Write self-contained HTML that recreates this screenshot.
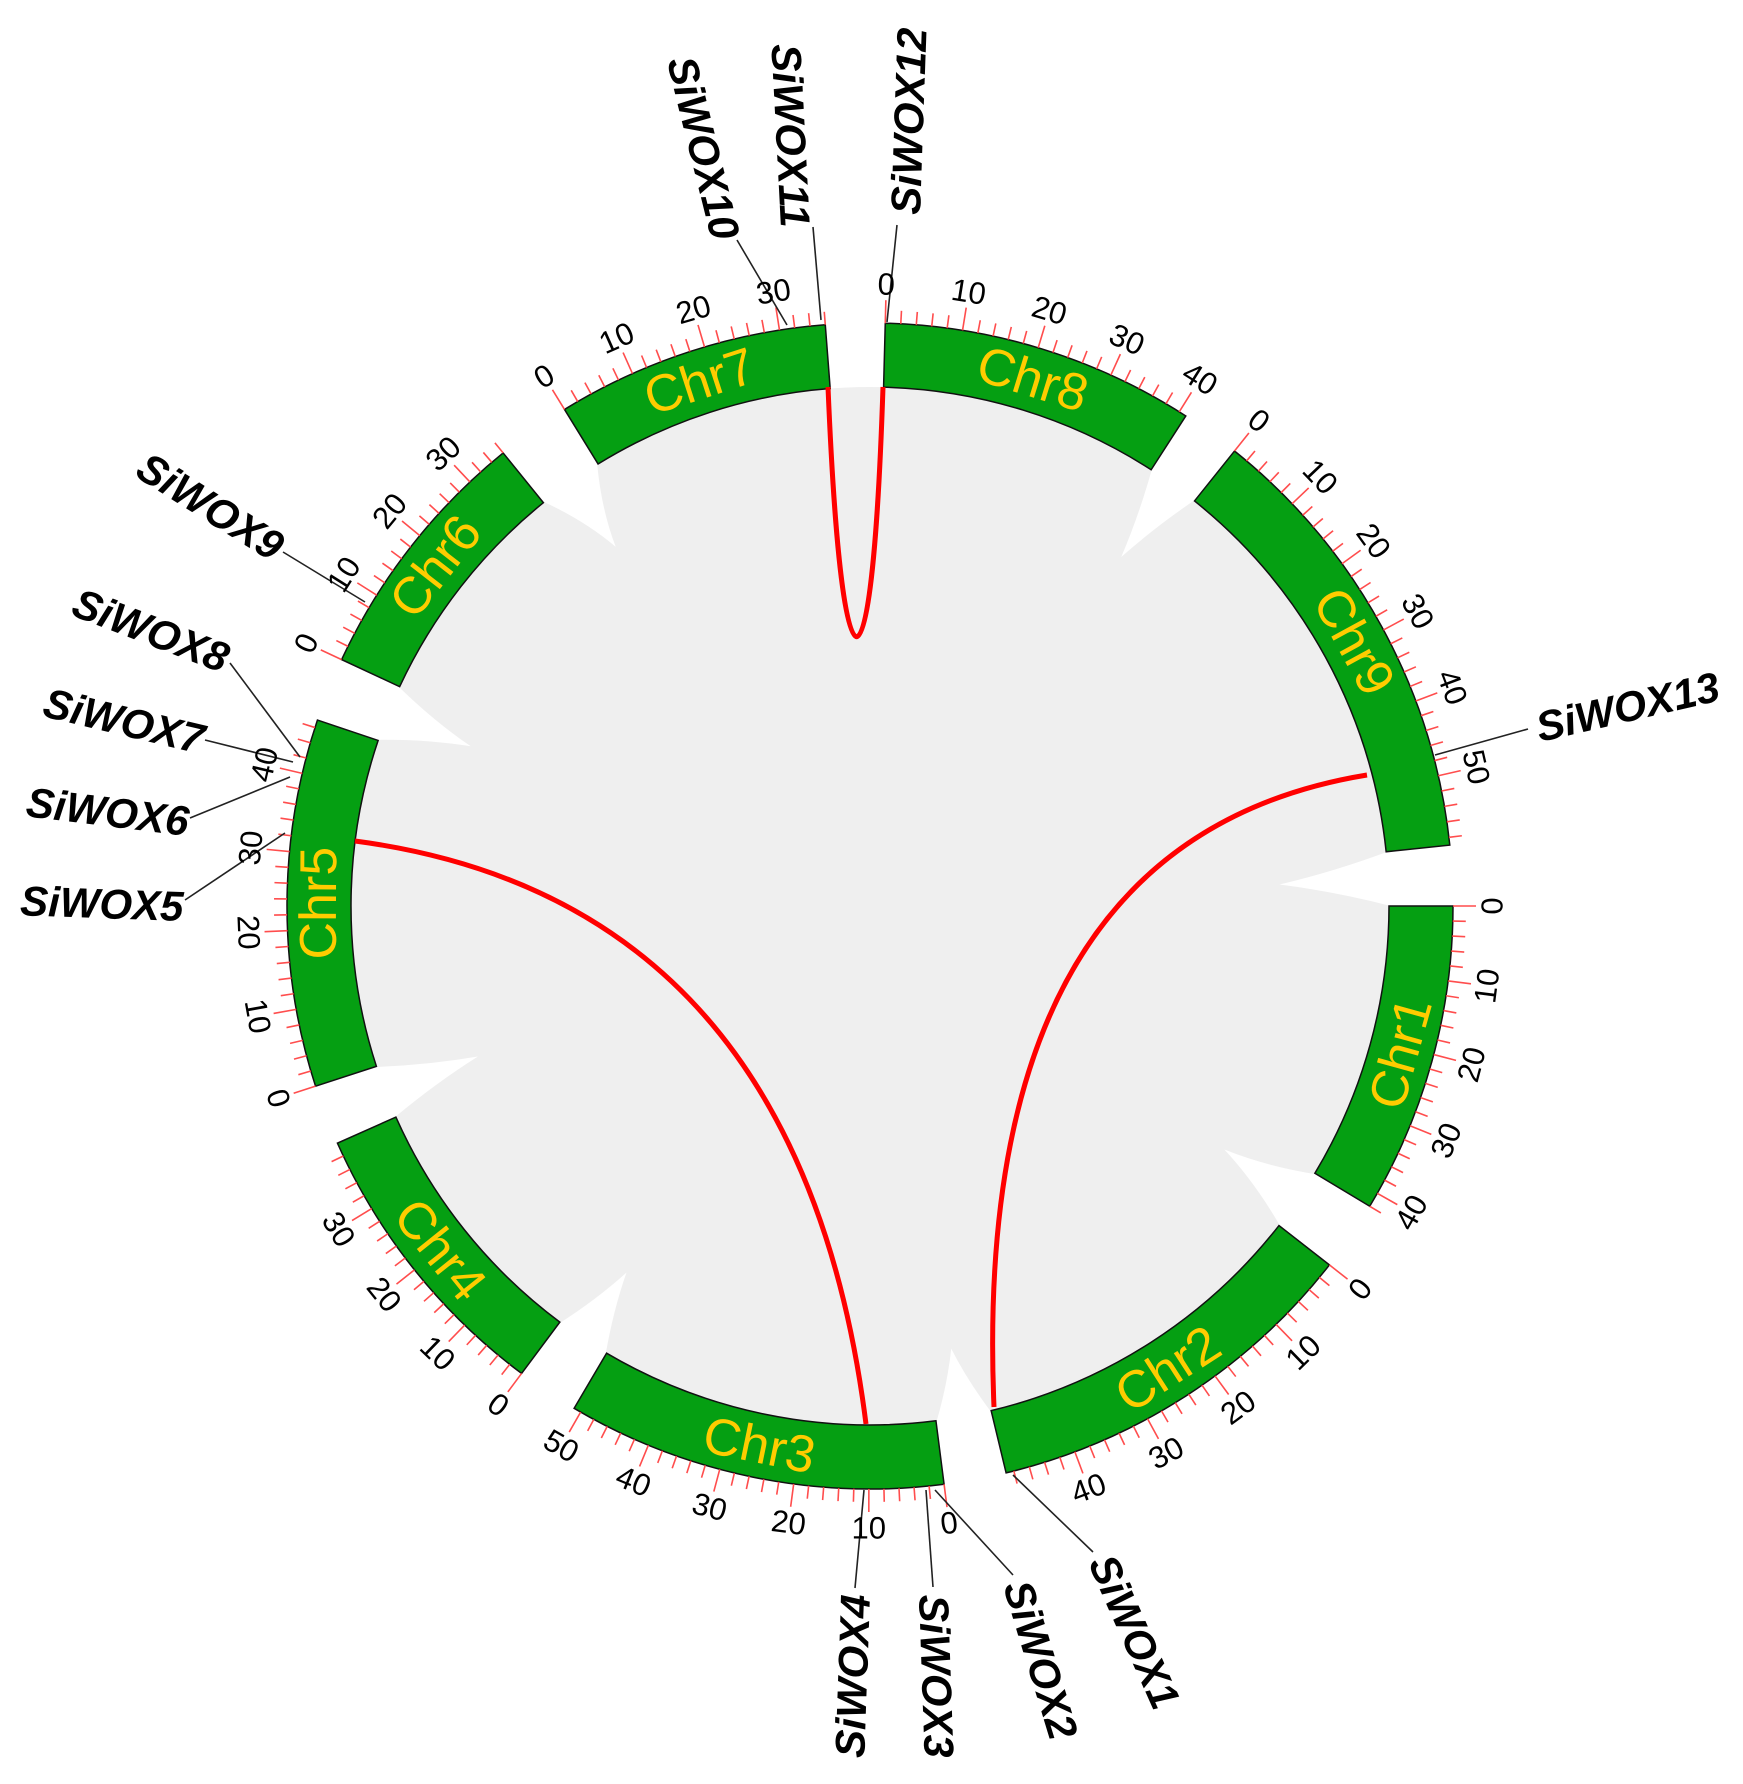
<!DOCTYPE html>
<html><head><meta charset="utf-8">
<style>
html,body{margin:0;padding:0;background:#fff;}
svg{display:block;}
.tl{font-family:"Liberation Sans",sans-serif;font-size:31px;fill:#000;text-anchor:middle;dominant-baseline:central;}
.cn{font-family:"Liberation Sans",sans-serif;font-size:52px;fill:#ffcc00;text-anchor:middle;dominant-baseline:central;}
.gl{font-family:"Liberation Sans",sans-serif;font-size:42px;font-weight:bold;font-style:italic;fill:#000;}
</style></head>
<body>
<svg id="s" width="1743" height="1784" viewBox="0 0 1743 1784" xmlns="http://www.w3.org/2000/svg">
<rect width="1743" height="1784" fill="#fff"/>
<circle cx="870" cy="906" r="519" fill="#efefef"/>
<g id="wedges" fill="#fff"></g>
<g id="chrs"></g>
<g id="ticks" stroke="#ff4d4d" stroke-width="1.6"></g>

<g fill="none" stroke="#ff0000" stroke-width="5">
<path d="M828 387 C842 720 872 720 883 387"/>
<path d="M355 841 Q800 900 866 1424"/>
<path d="M1367 775 Q970 840 994 1407"/>
</g>

<g stroke="#222" stroke-width="1.6">
<line x1="897" y1="225" x2="887" y2="322"/>
<line x1="813" y1="227" x2="821" y2="320"/>
<line x1="737" y1="240" x2="787" y2="325"/>
<line x1="283" y1="552" x2="365" y2="602"/>
<line x1="230" y1="663" x2="300" y2="757"/>
<line x1="205" y1="740" x2="293" y2="762"/>
<line x1="190" y1="818" x2="290" y2="777"/>
<line x1="185" y1="900" x2="285" y2="833"/>
<line x1="1528" y1="729" x2="1435" y2="755"/>
<line x1="855" y1="1588" x2="864" y2="1490"/>
<line x1="933" y1="1587" x2="926" y2="1490"/>
<line x1="1013" y1="1575" x2="935" y2="1490"/>
<line x1="1093" y1="1552" x2="1013" y2="1475"/>
</g>

<g class="tl">
<g transform="rotate(1.5 870 906)"><text x="870" y="284">0</text></g>
<g transform="rotate(9.13 870 906)"><text x="870" y="284">10</text></g>
<g transform="rotate(16.77 870 906)"><text x="870" y="284">20</text></g>
<g transform="rotate(24.4 870 906)"><text x="870" y="284">30</text></g>
<g transform="rotate(32.04 870 906)"><text x="870" y="284">40</text></g>
<g transform="rotate(38.7 870 906)"><text x="870" y="284">0</text></g>
<g transform="rotate(46.38 870 906)"><text x="870" y="284">10</text></g>
<g transform="rotate(54.06 870 906)"><text x="870" y="284">20</text></g>
<g transform="rotate(61.73 870 906)"><text x="870" y="284">30</text></g>
<g transform="rotate(69.41 870 906)"><text x="870" y="284">40</text></g>
<g transform="rotate(77.09 870 906)"><text x="870" y="284">50</text></g>
<g transform="rotate(90 870 906)"><text x="870" y="284" transform="rotate(180 870 284)">0</text></g>
<g transform="rotate(97.38 870 906)"><text x="870" y="284" transform="rotate(180 870 284)">10</text></g>
<g transform="rotate(104.76 870 906)"><text x="870" y="284" transform="rotate(180 870 284)">20</text></g>
<g transform="rotate(112.14 870 906)"><text x="870" y="284" transform="rotate(180 870 284)">30</text></g>
<g transform="rotate(119.52 870 906)"><text x="870" y="284" transform="rotate(180 870 284)">40</text></g>
<g transform="rotate(128 870 906)"><text x="870" y="284" transform="rotate(180 870 284)">0</text></g>
<g transform="rotate(135.86 870 906)"><text x="870" y="284" transform="rotate(180 870 284)">10</text></g>
<g transform="rotate(143.71 870 906)"><text x="870" y="284" transform="rotate(180 870 284)">20</text></g>
<g transform="rotate(151.57 870 906)"><text x="870" y="284" transform="rotate(180 870 284)">30</text></g>
<g transform="rotate(159.43 870 906)"><text x="870" y="284" transform="rotate(180 870 284)">40</text></g>
<g transform="rotate(172.7 870 906)"><text x="870" y="284" transform="rotate(180 870 284)">0</text></g>
<g transform="rotate(180.11 870 906)"><text x="870" y="284" transform="rotate(180 870 284)">10</text></g>
<g transform="rotate(187.52 870 906)"><text x="870" y="284" transform="rotate(180 870 284)">20</text></g>
<g transform="rotate(194.94 870 906)"><text x="870" y="284" transform="rotate(180 870 284)">30</text></g>
<g transform="rotate(202.35 870 906)"><text x="870" y="284" transform="rotate(180 870 284)">40</text></g>
<g transform="rotate(209.76 870 906)"><text x="870" y="284" transform="rotate(180 870 284)">50</text></g>
<g transform="rotate(216.7 870 906)"><text x="870" y="284" transform="rotate(180 870 284)">0</text></g>
<g transform="rotate(224.03 870 906)"><text x="870" y="284" transform="rotate(180 870 284)">10</text></g>
<g transform="rotate(231.35 870 906)"><text x="870" y="284" transform="rotate(180 870 284)">20</text></g>
<g transform="rotate(238.68 870 906)"><text x="870" y="284" transform="rotate(180 870 284)">30</text></g>
<g transform="rotate(252 870 906)"><text x="870" y="284" transform="rotate(180 870 284)">0</text></g>
<g transform="rotate(259.79 870 906)"><text x="870" y="284" transform="rotate(180 870 284)">10</text></g>
<g transform="rotate(267.57 870 906)"><text x="870" y="284" transform="rotate(180 870 284)">20</text></g>
<g transform="rotate(275.36 870 906)"><text x="870" y="284">30</text></g>
<g transform="rotate(283.15 870 906)"><text x="870" y="284">40</text></g>
<g transform="rotate(295 870 906)"><text x="870" y="284">0</text></g>
<g transform="rotate(302.22 870 906)"><text x="870" y="284">10</text></g>
<g transform="rotate(309.44 870 906)"><text x="870" y="284">20</text></g>
<g transform="rotate(316.67 870 906)"><text x="870" y="284">30</text></g>
<g transform="rotate(328.4 870 906)"><text x="870" y="284">0</text></g>
<g transform="rotate(335.96 870 906)"><text x="870" y="284">10</text></g>
<g transform="rotate(343.51 870 906)"><text x="870" y="284">20</text></g>
<g transform="rotate(351.07 870 906)"><text x="870" y="284">30</text></g>
</g>

<g class="cn">
<g transform="rotate(17.15 870 906)"><text x="870" y="355">Chr8</text></g>
<g transform="rotate(61.35 870 906)"><text x="870" y="355">Chr9</text></g>
<g transform="rotate(105.5 870 906)"><text x="870" y="355" transform="rotate(180 870 355)">Chr1</text></g>
<g transform="rotate(147.25 870 906)"><text x="870" y="355" transform="rotate(180 870 355)">Chr2</text></g>
<g transform="rotate(191.6 870 906)"><text x="870" y="355" transform="rotate(180 870 355)">Chr3</text></g>
<g transform="rotate(231.35 870 906)"><text x="870" y="355" transform="rotate(180 870 355)">Chr4</text></g>
<g transform="rotate(270.3 870 906)"><text x="870" y="355">Chr5</text></g>
<g transform="rotate(308 870 906)"><text x="870" y="355">Chr6</text></g>
<g transform="rotate(342 870 906)"><text x="870" y="355">Chr7</text></g>
</g>

<g class="gl">
<text x="920" y="215" transform="rotate(-88 920 215)">SiWOX12</text>
<text x="781" y="228" text-anchor="end" transform="rotate(87 781 228)">SiWOX11</text>
<text x="712" y="242" text-anchor="end" transform="rotate(76 712 242)">SiWOX10</text>
<text x="272" y="562" text-anchor="end" transform="rotate(32 272 562)">SiWOX9</text>
<text x="222" y="673" text-anchor="end" transform="rotate(21 222 673)">SiWOX8</text>
<text x="200" y="754" text-anchor="end" transform="rotate(13.5 200 754)">SiWOX7</text>
<text x="187" y="836" text-anchor="end" transform="rotate(7 187 836)">SiWOX6</text>
<text x="183" y="921" text-anchor="end" transform="rotate(2 183 921)">SiWOX5</text>
<text x="1540" y="742" transform="rotate(-13 1540 742)">SiWOX13</text>
<text x="870" y="1595" text-anchor="end" transform="rotate(-88 870 1595)">SiWOX4</text>
<text x="919" y="1595" transform="rotate(88 919 1595)">SiWOX3</text>
<text x="1003" y="1586" transform="rotate(73 1003 1586)">SiWOX2</text>
<text x="1088" y="1563" transform="rotate(66 1088 1563)">SiWOX1</text>
</g>

<script>
(function(){
var NS="http://www.w3.org/2000/svg",cx=870,cy=906,Ri=519,Ro=583;
function P(r,a){var t=a*Math.PI/180;return [cx+r*Math.sin(t),cy-r*Math.cos(t)];}
var chr=[[1.5,32.8,41],[38.7,84,59],[90,121,42],[128,166.5,49],[172.7,210.5,51],[216.7,246,39.9],[252,288.6,47],[295,321,36],[328.4,355.6,36]];
var g=document.getElementById('chrs'),tk=document.getElementById('ticks'),wg=document.getElementById('wedges');
chr.forEach(function(c){
 var s=c[0],e=c[1],a=P(Ro,s),b=P(Ro,e),d=P(Ri,e),f=P(Ri,s);
 var p=document.createElementNS(NS,'path');
 p.setAttribute('d','M'+a+' A'+Ro+' '+Ro+' 0 0 1 '+b+' L'+d+' A'+Ri+' '+Ri+' 0 0 0 '+f+'Z');
 p.setAttribute('fill','#059f12');p.setAttribute('stroke','#111');p.setAttribute('stroke-width','1.5');
 g.appendChild(p);
 var k=(e-s)/c[2];
 for(var v=0;v<=c[2]+0.01;v+=2){
  var ang=s+v*k,len=(v%10==0)?23:13,q1=P(Ro,ang),q2=P(Ro+len,ang);
  var l=document.createElementNS(NS,'line');
  l.setAttribute('x1',q1[0]);l.setAttribute('y1',q1[1]);l.setAttribute('x2',q2[0]);l.setAttribute('y2',q2[1]);
  tk.appendChild(l);
 }
});
var gaps=[[32.8,38.7,430],[84,90,410],[121,128,430],[166.5,172.7,450],[210.5,216.7,440],[246,252,420],[288.6,295,430],[321,328.4,440]];
gaps.forEach(function(q){
 var m=(q[0]+q[1])/2,a=P(Ri+2,q[0]),b=P(Ri+2,q[1]),t=P(q[2],m),c1=P((Ri+q[2])/2,m-1.2),c2=P((Ri+q[2])/2,m+1.2);
 var p=document.createElementNS(NS,'path');
 p.setAttribute('d','M'+a+' Q'+c1+' '+t+' Q'+c2+' '+b+'Z');
 wg.appendChild(p);
});
})();
</script>
</svg>
</body></html>
